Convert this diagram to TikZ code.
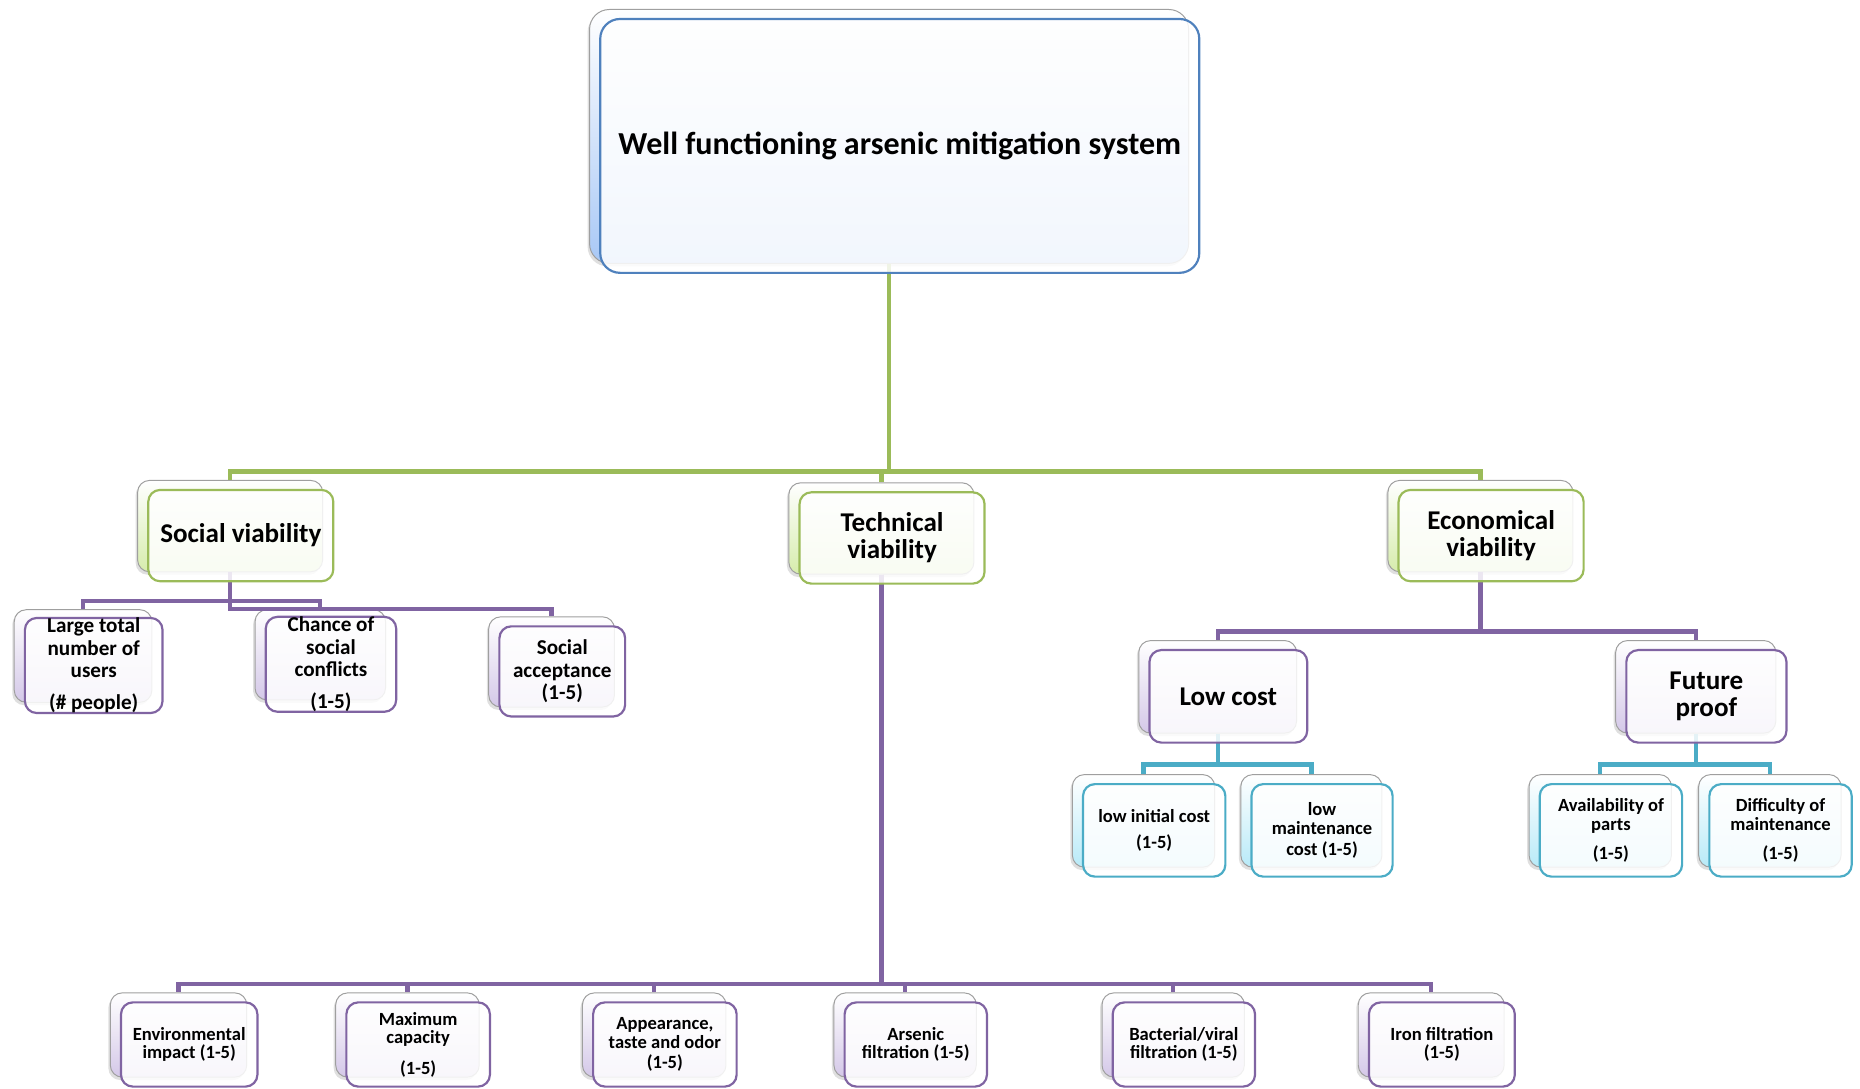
\documentclass[tikz,border=0pt]{standalone}
\usepackage{fontspec}
\setmainfont{Carlito}
\usetikzlibrary{shadows}
\definecolor{bluA}{RGB}{79,129,189}  \definecolor{bluB}{RGB}{168,200,246}
\definecolor{grnA}{RGB}{155,187,89}  \definecolor{grnB}{RGB}{214,236,172}
\definecolor{prpA}{RGB}{128,100,162} \definecolor{prpB}{RGB}{212,200,232}
\definecolor{cynA}{RGB}{75,172,198}  \definecolor{cynB}{RGB}{184,234,248}
\pgfdeclarelayer{bk}\pgfdeclarelayer{ln}\pgfsetlayers{bk,ln,main}
\begin{document}
\begin{tikzpicture}[x=.6pt,y=-.6pt,
 card/.style={rounded corners=6pt, inner sep=0pt},
 bk/.style={draw=gray!75, line width=.5pt, top color=white, bottom color=#1B, drop shadow={shadow xshift=-1pt,shadow yshift=-1.5pt,opacity=.25}},
 fr/.style={draw=#1A, line width=1.1pt, fill=white, fill opacity=.85, text opacity=1, align=center},
 big/.style={font=\fontsize{16.2}{18.5}\selectfont\bfseries, rounded corners=10pt},
 lv/.style={font=\fontsize{13.7}{13.8}\selectfont\bfseries},
 sm/.style={font=\fontsize{10.7}{11.3}\selectfont\bfseries},
 xs/.style={font=\fontsize{9.4}{9.4}\selectfont\bfseries}]
\useasboundingbox (0,0) rectangle (1568,918);
\foreach \n/\x/\y/\w/\h/\cl/\f/\t in {
 root/749.5/115/505/214/blu/big/{Well functioning arsenic mitigation system},
 soc/194/443.5/156/77/grn/lv/{Social viability},
 tech/743/445.5/156/77/grn/lv/{Technical\\viability},
 eco/1248/443.5/156/77/grn/lv/{Economical\\viability},
 usr/70/553/116/78/prp/sm/{Large total\\number of\\users\\[5pt](\# people)},
 cnf/270/552/110/76/prp/sm/{Chance of\\social\\conflicts\\[5pt](1-5)},
 acc/465/558/106/76/prp/sm/{Social\\acceptance\\(1-5)},
 low/1026.5/579/133/78/prp/lv/{Low cost},
 fut/1429.5/579/135/78/prp/lv/{Future\\proof},
 ini/964/692/120/78/cyn/xs/{low initial cost\\[4pt](1-5)},
 mnt/1105.5/692/119/78/cyn/xs/{low\\maintenance\\[1.5pt]cost (1-5)},
 prt/1349/692/120/78/cyn/xs/{Availability of\\parts\\[5.5pt](1-5)},
 dif/1492/692/120/78/cyn/xs/{Difficulty of\\maintenance\\[5.5pt](1-5)},
 env/150.5/872.5/115/71/prp/xs/{Environmental\\impact (1-5)},
 cap/343.5/872.5/121/71/prp/xs/{Maximum\\capacity\\[6pt](1-5)},
 tst/551.5/872.5/121/71/prp/xs/{Appearance,\\taste and odor\\[1pt](1-5)},
 ars/763/872.5/120/71/prp/xs/{Arsenic\\filtration (1-5)},
 bac/989/872.5/120/71/prp/xs/{Bacterial/viral\\filtration (1-5)},
 irn/1206.5/872.5/123/71/prp/xs/{Iron filtration\\(1-5)}}{
 \begin{pgfonlayer}{bk}
 \node[card, bk=\cl, \f, minimum width=\w*.6pt, minimum height=\h*.6pt] (\n) at (\x,\y) {};
 \end{pgfonlayer}
 \node[card, fr=\cl, \f, minimum width=\w*.6pt, minimum height=\h*.6pt] (f\n) at ([shift={(9,8)}]\n.center) {\t};
}
\begin{pgfonlayer}{ln}
\foreach \d/\dd/\h/\cl in {root/soc/175/grn, root/tech/175/grn, root/eco/175/grn,
 soc/usr/24/prp, soc/cnf/24/prp, soc/acc/31/prp,
 tech/env/345/prp, tech/cap/345/prp, tech/tst/345/prp, tech/ars/345/prp, tech/bac/345/prp, tech/irn/345/prp,
 eco/low/50/prp, eco/fut/50/prp,
 low/ini/26/cyn, low/mnt/26/cyn, fut/prt/26/cyn, fut/dif/26/cyn}
 \draw[line width=2.2pt, draw=\cl A] (\d.south) -- ++(0,\h) -| (\dd.north);
\end{pgfonlayer}
\end{tikzpicture}
\end{document}
